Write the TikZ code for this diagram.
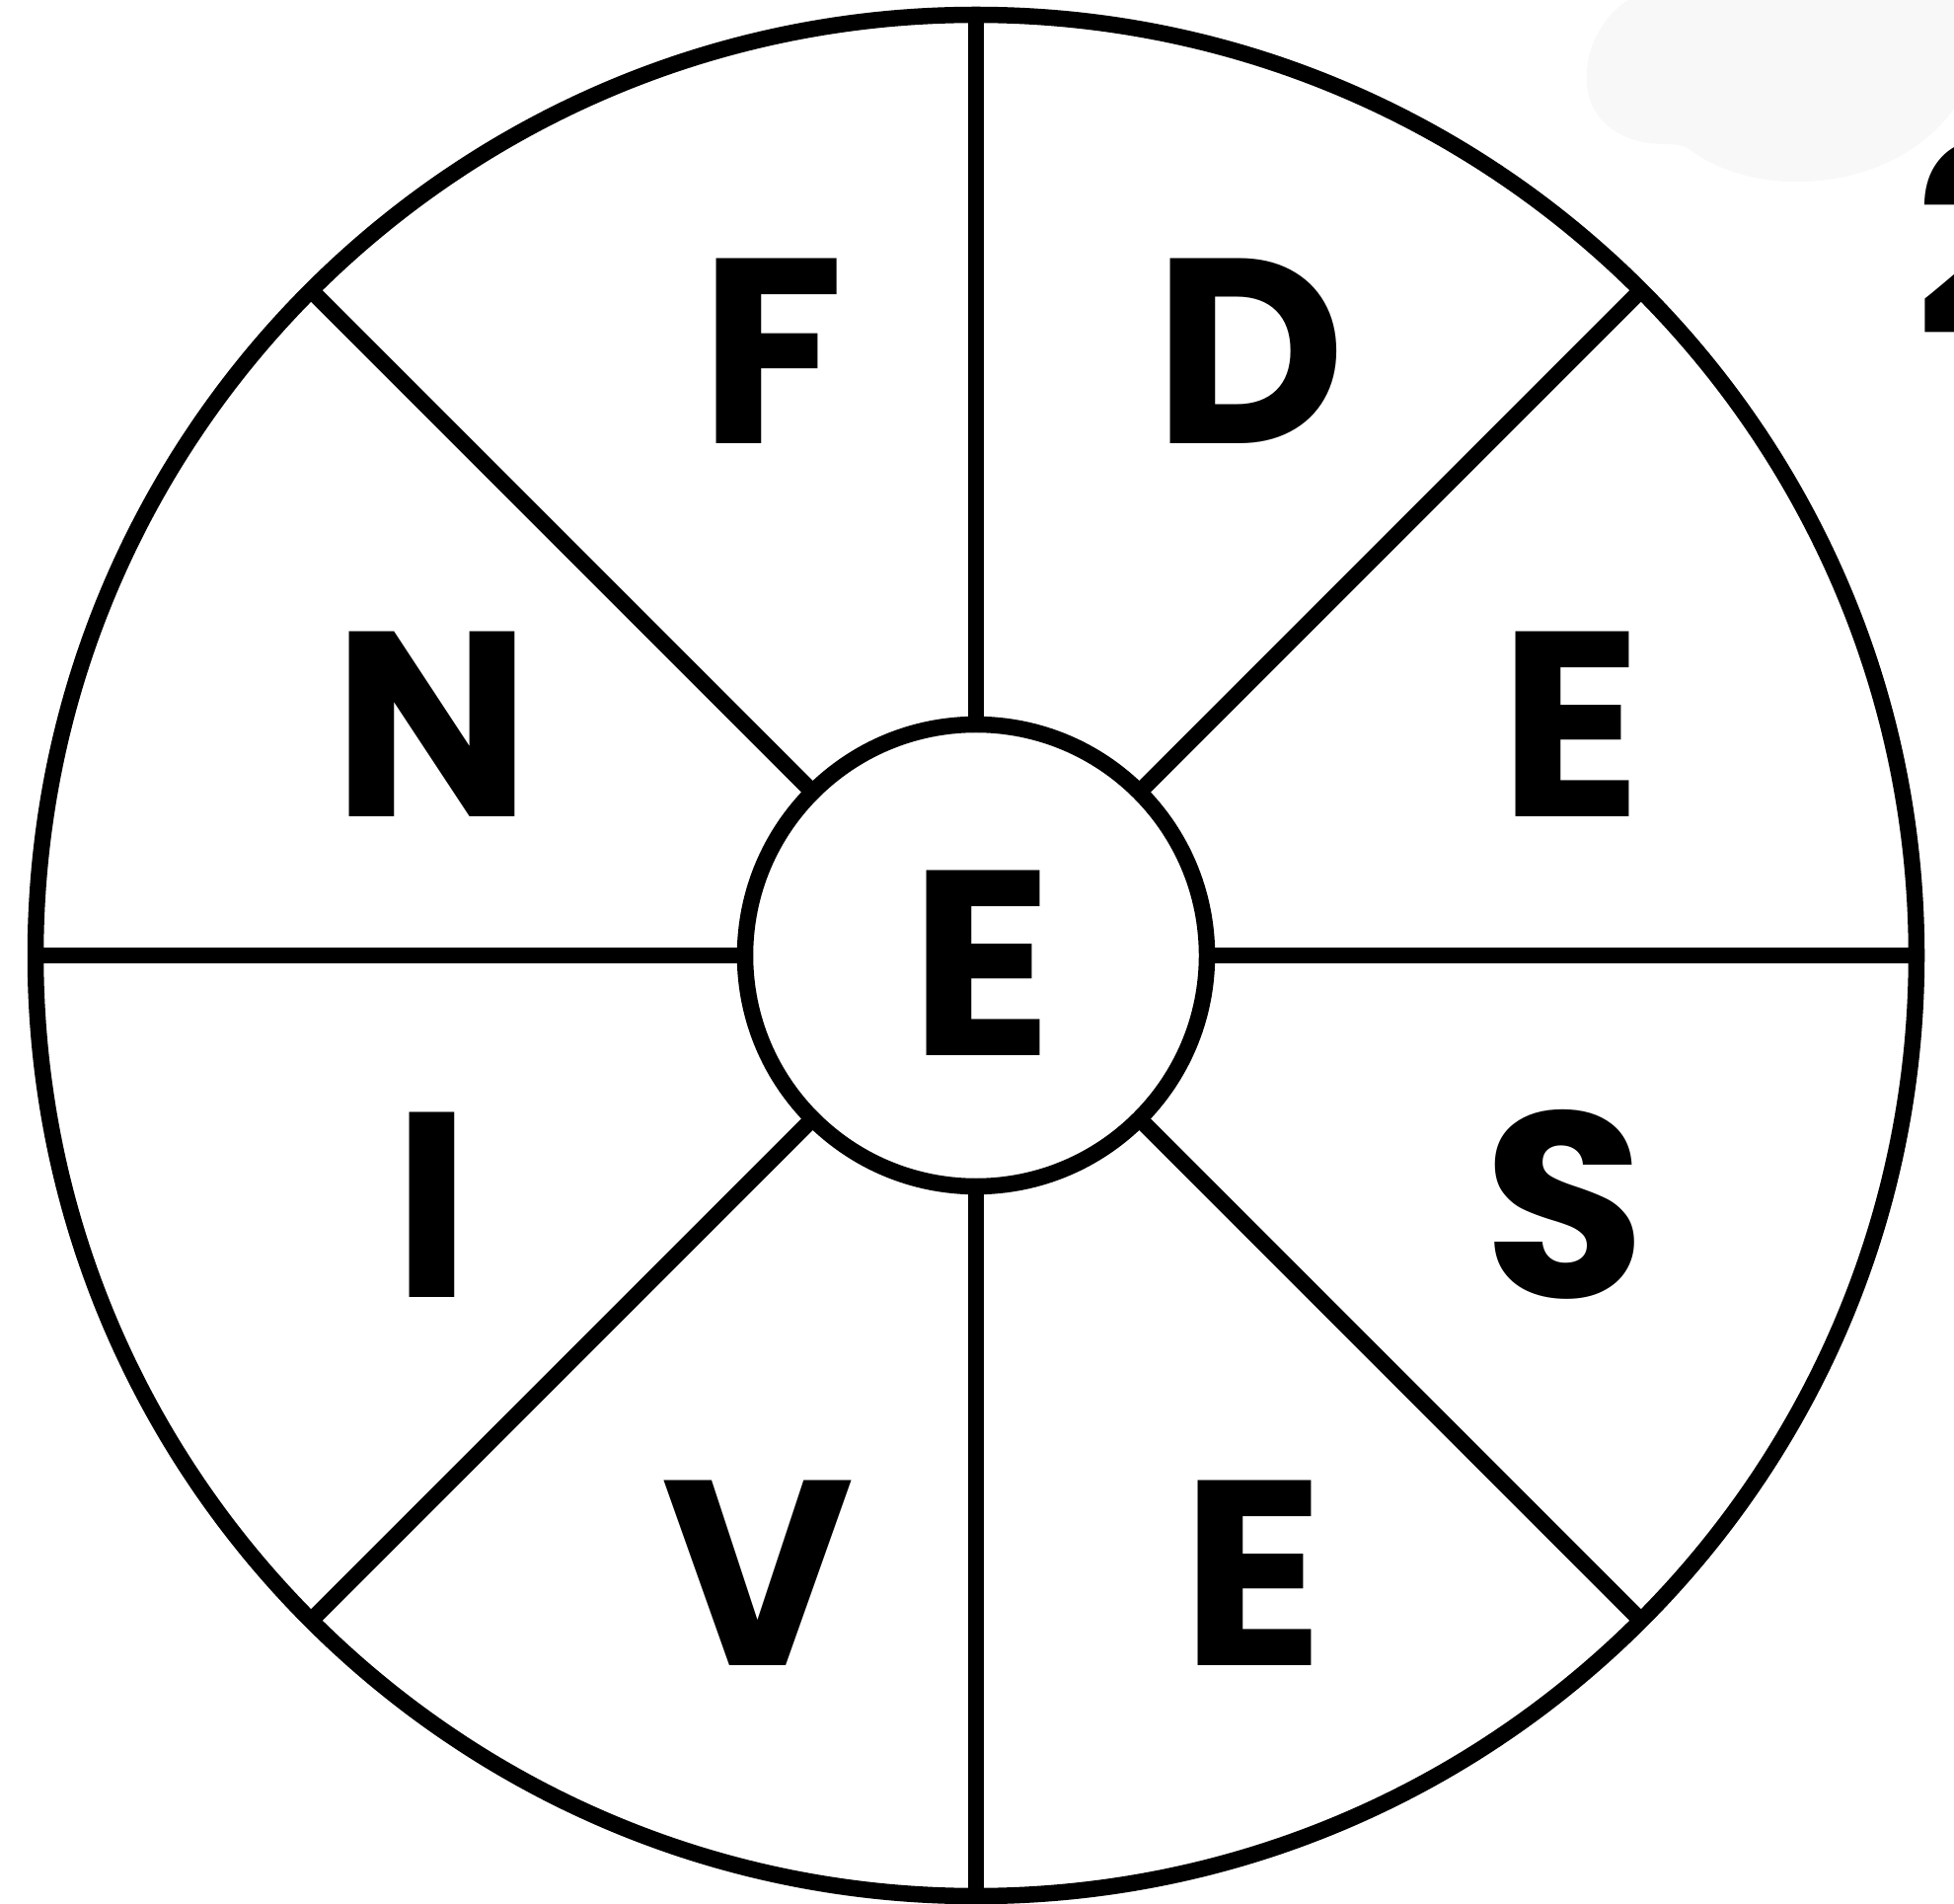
\documentclass[tikz,border=0pt]{standalone}
\usepackage{fontspec}
\setmainfont{Poppins}
\usetikzlibrary{positioning}
\definecolor{ink}{RGB}{0,0,0}
\definecolor{haze}{RGB}{248,248,248}
\tikzset{
  rim/.style={circle,draw=ink,line width=0.165cm,inner sep=0pt,outer sep=0pt,minimum size=19.06cm},
  hub/.style={circle,draw=ink,fill=white,line width=0.165cm,inner sep=0pt,outer sep=0pt,minimum size=4.68cm},
  spoke/.style={draw=ink,line width=0.165cm},
  letter/.style={font=\fontsize{76}{76}\selectfont\bfseries,text=ink,inner sep=0pt},
}

\begin{document}
\begin{tikzpicture}
    \useasboundingbox (0,0) rectangle (19.8,-19.29);
    \begin{scope}
      \clip (0,0) rectangle (19.8,-19.29);
      % faint smudge and cut-off number at the top right
      \fill[haze] (16.5,0) .. controls (16.0,-0.3) and (15.8,-1.3) .. (16.7,-1.45)
        .. controls (16.9,-1.47) and (17.0,-1.45) .. (17.1,-1.5)
        .. controls (17.8,-2.05) and (19.2,-1.95) .. (19.8,-1.1) -- (19.8,0) -- cycle;
      \node[letter,anchor=base west] (num) at (19.40,-3.40) {2};
    \end{scope}

    \node[rim] (wheel) at (9.89,-9.68) {};
    \node[hub] (core) at (wheel.center) {};
    \foreach \a in {0,45,...,315}
      \draw[spoke] (core.\a) -- (wheel.\a);
    \node[letter] (mid) at (9.95,-9.76) {E};

    \foreach \t/\x/\y [count=\i] in {
      F/7.83/-3.56, D/12.67/-3.56, N/4.38/-7.34, E/15.92/-7.34,
      I/4.38/-12.21, S/15.86/-12.20, V/7.68/-15.94, E/12.70/-15.94}
      \node[letter] (l\i) at (\x,\y) {\t};
\end{tikzpicture}
\end{document}
